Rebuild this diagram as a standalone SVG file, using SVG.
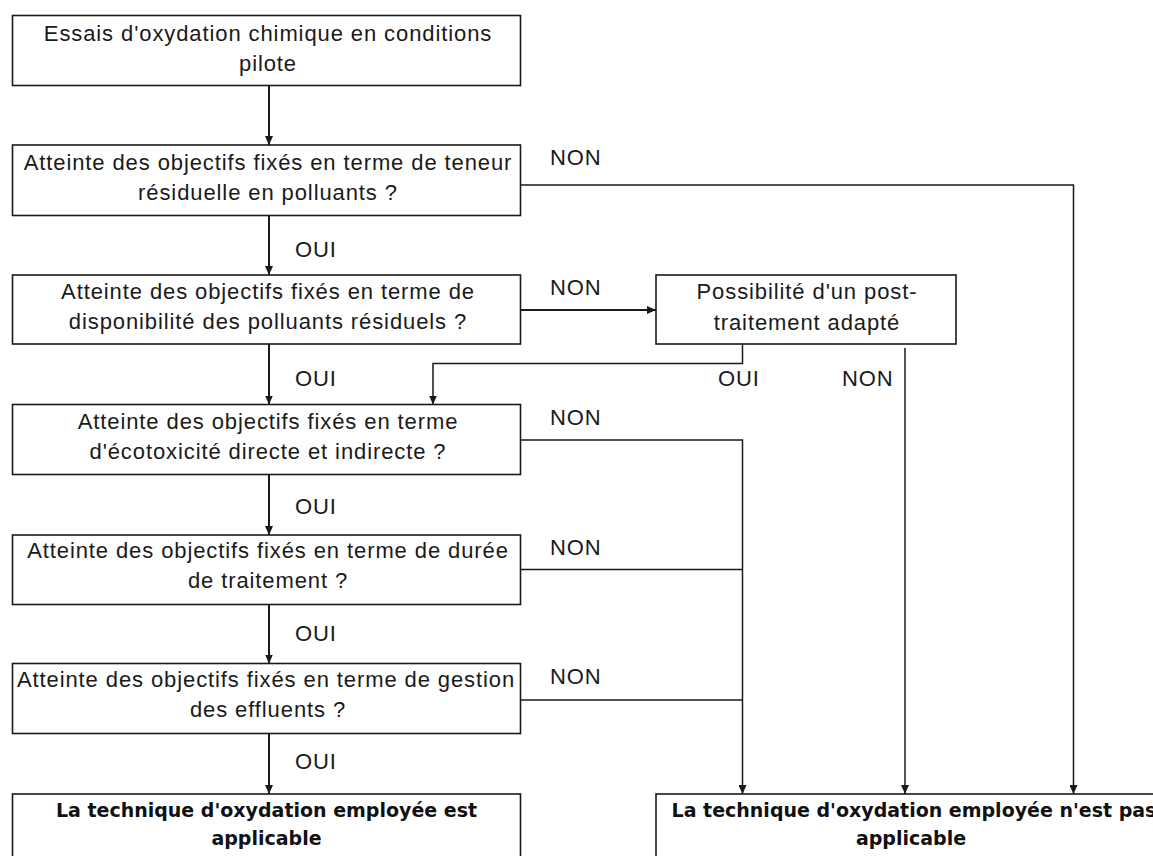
<svg xmlns="http://www.w3.org/2000/svg" width="1153" height="856" viewBox="0 0 1153 856">
<defs>
<style>
.box{fill:#fff;stroke:#1a1a1a;stroke-width:1.6}
.t{font-family:"Liberation Sans",Arial,sans-serif;font-size:22px;letter-spacing:0.9px;fill:#1a1a1a;text-anchor:middle}
.b{font-family:"DejaVu Sans",Verdana,sans-serif;font-size:19px;font-weight:bold;fill:#111;text-anchor:middle}
.lbl{font-family:"Liberation Sans",Arial,sans-serif;font-size:22px;letter-spacing:0.9px;fill:#1a1a1a}
.v{fill:none;stroke:#1a1a1a;stroke-width:2}
.h{fill:none;stroke:#1a1a1a;stroke-width:1.5}
</style>
<marker id="ah" viewBox="0 0 9 8" refX="9" refY="4" markerWidth="9" markerHeight="8" markerUnits="userSpaceOnUse" orient="auto">
<path d="M0,0 L9,4 L0,8 z" fill="#1a1a1a"/>
</marker>
</defs>
<rect width="1153" height="856" fill="#fff"/>

<g id="connectors">
<path class="v" d="M269,85.5 V145" marker-end="url(#ah)"/>
<path class="v" d="M269,215.5 V275" marker-end="url(#ah)"/>
<path class="v" d="M269,344 V404.5" marker-end="url(#ah)"/>
<path class="v" d="M269,474.5 V535" marker-end="url(#ah)"/>
<path class="v" d="M269,604.5 V663.5" marker-end="url(#ah)"/>
<path class="v" d="M269,733.5 V794" marker-end="url(#ah)"/>
<path class="h" d="M520.5,185 H1073.5 V794" marker-end="url(#ah)"/>
<path class="v" d="M520.5,310 H656" marker-end="url(#ah)"/>
<path class="h" d="M742.5,344 V363.5 H433 V404.5" marker-end="url(#ah)"/>
<path class="h" d="M905,348 V794" marker-end="url(#ah)"/>
<path class="h" d="M520.5,440 H742.5 V794" marker-end="url(#ah)"/>
<path class="h" d="M520.5,569.5 H742.5"/>
<path class="h" d="M520.5,700 H742.5"/>
<text class="lbl" x="550" y="165">NON</text>
<text class="lbl" x="550" y="295">NON</text>
<text class="lbl" x="550" y="424.5">NON</text>
<text class="lbl" x="550" y="555">NON</text>
<text class="lbl" x="550" y="683.5">NON</text>
<text class="lbl" x="295" y="257">OUI</text>
<text class="lbl" x="295" y="386">OUI</text>
<text class="lbl" x="295" y="514">OUI</text>
<text class="lbl" x="295" y="641">OUI</text>
<text class="lbl" x="295" y="769">OUI</text>
<text class="lbl" x="718" y="386">OUI</text>
<text class="lbl" x="842" y="386">NON</text>
</g>

<g id="n1">
<rect class="box" x="12.5" y="15.5" width="508" height="70"/>
<text class="t" x="268" y="40.5">Essais d'oxydation chimique en conditions</text>
<text class="t" x="268" y="70.5">pilote</text>
</g>
<g id="n2">
<rect class="box" x="12.5" y="145" width="508" height="70.5"/>
<text class="t" x="268" y="170">Atteinte des objectifs fixés en terme de teneur</text>
<text class="t" x="268" y="200">résiduelle en polluants ?</text>
</g>
<g id="n3">
<rect class="box" x="12.5" y="275" width="508" height="69"/>
<text class="t" x="268" y="299">Atteinte des objectifs fixés en terme de</text>
<text class="t" x="268" y="329">disponibilité des polluants résiduels ?</text>
</g>
<g id="n_post">
<rect class="box" x="656" y="275" width="300" height="69"/>
<text class="t" x="807" y="299">Possibilité d'un post-</text>
<text class="t" x="807" y="330">traitement adapté</text>
</g>
<g id="n4">
<rect class="box" x="12.5" y="404.5" width="508" height="70"/>
<text class="t" x="268" y="429">Atteinte des objectifs fixés en terme</text>
<text class="t" x="268" y="459">d'écotoxicité directe et indirecte ?</text>
</g>
<g id="n5">
<rect class="box" x="12.5" y="535" width="508" height="69.5"/>
<text class="t" x="268" y="558">Atteinte des objectifs fixés en terme de durée</text>
<text class="t" x="268" y="588">de traitement ?</text>
</g>
<g id="n6">
<rect class="box" x="12.5" y="663.5" width="508" height="70"/>
<text class="t" x="266" y="687">Atteinte des objectifs fixés en terme de gestion</text>
<text class="t" x="268" y="717">des effluents ?</text>
</g>
<g id="n7">
<rect class="box" x="12.5" y="794" width="508" height="80"/>
<text class="b" x="266.5" y="817">La technique d'oxydation employée est</text>
<text class="b" x="266.5" y="845">applicable</text>
</g>
<g id="n8">
<rect class="box" x="656" y="794" width="508" height="80"/>
<text class="b" x="914" y="817">La technique d'oxydation employée n'est pas</text>
<text class="b" x="911" y="845">applicable</text>
</g>
</svg>
